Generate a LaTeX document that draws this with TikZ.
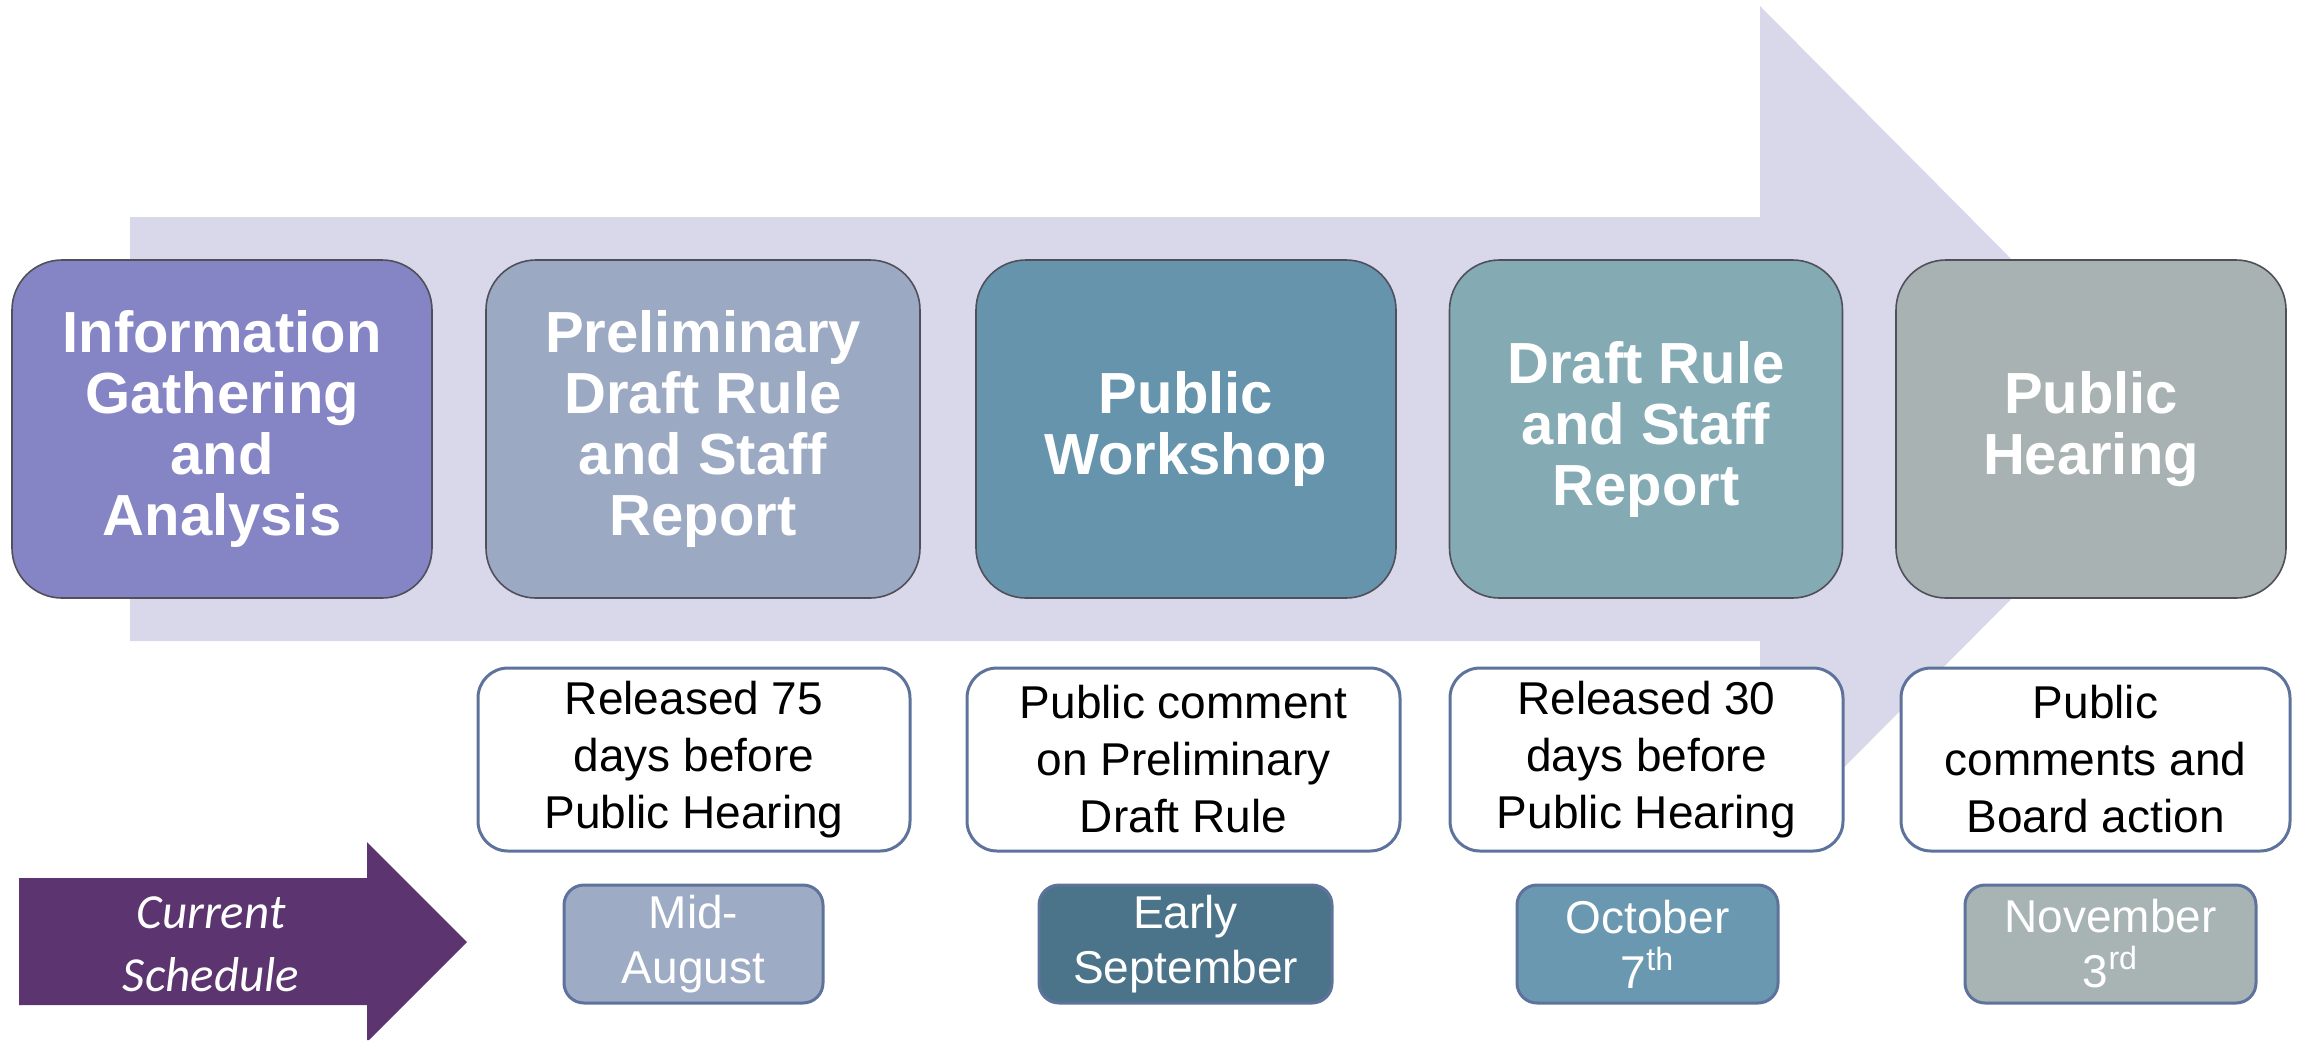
\documentclass[tikz,border=0pt]{standalone}
\usepackage{fontspec}
\setmainfont{Liberation Sans}
\newfontfamily\carlitofont{Carlito}
\definecolor{arrowfill}{RGB}{217,216,235}
\definecolor{cinfo}{RGB}{133,132,196}
\definecolor{cprelim}{RGB}{155,169,195}
\definecolor{cwork}{RGB}{102,148,173}
\definecolor{cdraft}{RGB}{132,170,180}
\definecolor{chear}{RGB}{168,178,178}
\definecolor{cmid}{RGB}{157,171,197}
\definecolor{cearly}{RGB}{75,115,137}
\definecolor{coct}{RGB}{106,152,176}
\definecolor{cnov}{RGB}{168,179,179}
\definecolor{csched}{RGB}{91,52,112}
\definecolor{cborder}{RGB}{94,115,155}
\definecolor{cdark}{RGB}{80,80,90}
\tikzset{
  topbox/.style={rectangle, rounded corners=25pt, draw=cdark, line width=0.8pt,
    minimum height=169pt, inner sep=0pt, align=center, text=white,
    font=\bfseries\fontsize{29}{30.5}\selectfont},
  notebox/.style={rectangle, rounded corners=15pt, draw=cborder, line width=1.5pt,
    fill=white, minimum height=91.5pt, inner sep=0pt, align=center, text=black,
    font=\fontsize{23}{28.5}\selectfont},
  datebox/.style={rectangle, rounded corners=10pt, draw=cborder, line width=1.5pt,
    minimum height=59pt, inner sep=0pt, align=center, text=white,
    font=\fontsize{23}{27.5}\selectfont},
  schedtext/.style={inner sep=0pt, align=center, text=white,
    font=\carlitofont\itshape\fontsize{24.5}{31.5}\selectfont}
}
\begin{document}
\begin{tikzpicture}[x=0.5pt, y=-0.5pt]
\useasboundingbox (0,0) rectangle (2297,1040);
% big background arrow
\fill[arrowfill] (130,217) -- (1760,217) -- (1760,6) -- (2180,429) -- (1760,852)
  -- (1760,641) -- (130,641) -- cycle;
% top stage boxes
\node[topbox, fill=cinfo, minimum width=210pt] (info) at (222,429)
  {Information\\Gathering\\and\\Analysis};
\node[topbox, fill=cprelim, minimum width=217pt] (prelim) at (703,429)
  {Preliminary\\Draft Rule\\and Staff\\Report};
\node[topbox, fill=cwork, minimum width=210pt] (work) at (1186,429)
  {Public\\Workshop};
\node[topbox, fill=cdraft, minimum width=196.5pt] (draft) at (1646,429)
  {Draft Rule\\and Staff\\Report};
\node[topbox, fill=chear, minimum width=195pt] (hear) at (2091,429)
  {Public\\Hearing};
% description boxes
\node[notebox, minimum width=216pt] (n1) at (694,759.5)
  {Released 75\\days before\\Public Hearing};
\node[notebox, minimum width=216.5pt] (n2) at (1183.5,759.5)
  {Public comment\\on Preliminary\\Draft Rule};
\node[notebox, minimum width=196.5pt] (n3) at (1646.5,759.5)
  {Released 30\\days before\\Public Hearing};
\node[notebox, minimum width=194.5pt] (n4) at (2095.5,759.5)
  {Public\\comments and\\Board action};
% current schedule arrow
\fill[csched] (19,878) -- (367,878) -- (367,842) -- (467,942) -- (369,1040)
  -- (367,1040) -- (367,1005) -- (19,1005) -- cycle;
\node[schedtext] (sched) at (211,944) {Current\\Schedule};
% date boxes
\node[datebox, fill=cmid, minimum width=129.5pt] (d1) at (693.5,944)
  {Mid-\\August};
\node[datebox, fill=cearly, minimum width=146.5pt] (d2) at (1185.5,944)
  {Early\\September};
\node[datebox, fill=coct, minimum width=130.5pt] (d3) at (1647.5,944)
  {October\\7\textsuperscript{th}};
\node[datebox, fill=cnov, minimum width=145.5pt] (d4) at (2110.5,944)
  {November\\3\textsuperscript{rd}};
\end{tikzpicture}
\end{document}
